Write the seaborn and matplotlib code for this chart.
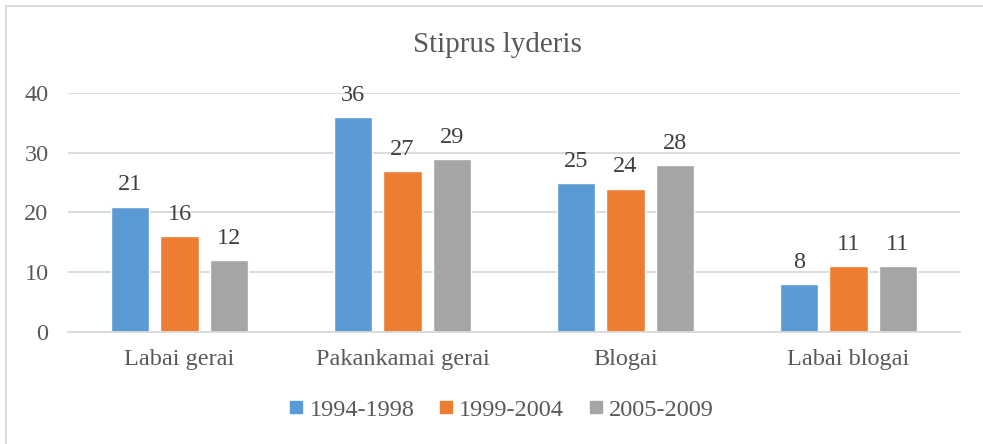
import pandas as pd
import seaborn as sns
import matplotlib.pyplot as plt
from matplotlib.lines import Line2D

categories = ['Labai gerai', 'Pakankamai gerai', 'Blogai', 'Labai blogai']
periods = ['1994-1998', '1999-2004', '2005-2009']
vals_1994 = [21, 36, 25, 8]
vals_1999 = [16, 27, 24, 11]
vals_2005 = [12, 29, 28, 11]
colors = ['#5B9BD5', '#ED7D31', '#A5A5A5']

rows = []
for period, vals in zip(periods, [vals_1994, vals_1999, vals_2005]):
    for cat, v in zip(categories, vals):
        rows.append({'Kategorija': cat, 'Laikotarpis': period, 'Reiksme': v})
df = pd.DataFrame(rows)

sns.set_theme(style="white")
plt.rcParams['font.family'] = ['Liberation Serif', 'DejaVu Serif']

fig = plt.figure(figsize=(9.83, 4.44), dpi=100)
ax = fig.add_axes([0.0692, 0.2523, 0.9766 - 0.0692, 0.5382])

sns.barplot(data=df, x='Kategorija', y='Reiksme', hue='Laikotarpis',
            palette=colors, width=0.665, gap=0.23, saturation=1,
            legend=False, ax=ax)

ax.set_ylim(0, 40)
ax.set_xlim(-0.5, 3.5)
ax.set_yticks([0, 10, 20, 30, 40])
ax.yaxis.grid(True, color='#D9D9D9', linewidth=1.3)
ax.set_axisbelow(True)
for s in ['top', 'right', 'left']:
    ax.spines[s].set_visible(False)
ax.spines['bottom'].set_color('#D9D9D9')
ax.spines['bottom'].set_linewidth(1.3)
ax.tick_params(axis='y', length=0, pad=14, labelsize=17.5, labelcolor='#595959')
ax.tick_params(axis='x', length=0, pad=12, labelsize=17.5, labelcolor='#595959')
ax.set_xlabel('')
ax.set_ylabel('')

for container in ax.containers:
    ax.bar_label(container, fmt='%d', padding=8, fontsize=17.5, color='#404040')

fig.text(0.5065, 0.898, 'Stiprus lyderis', ha='center', va='center',
         fontsize=21, color='#595959')

handles = [Line2D([0], [0], marker='s', linestyle='', markersize=8.5,
                  markerfacecolor=c, markeredgecolor=c) for c in colors]
fig.legend(handles, periods, loc='center', bbox_to_anchor=(0.51, 0.077),
           ncol=3, frameon=False, fontsize=17.5, handlelength=0.6,
           handletextpad=0.25, columnspacing=1.0, labelcolor='#595959')

# light frame like the chart area border
fig.add_artist(Line2D([0.006, 0.006], [0.0, 0.987], transform=fig.transFigure,
                      color='#D9D9D9', linewidth=1.3))
fig.add_artist(Line2D([0.006, 1.0], [0.987, 0.987], transform=fig.transFigure,
                      color='#D9D9D9', linewidth=1.3))

fig.savefig('out.png', dpi=100)
